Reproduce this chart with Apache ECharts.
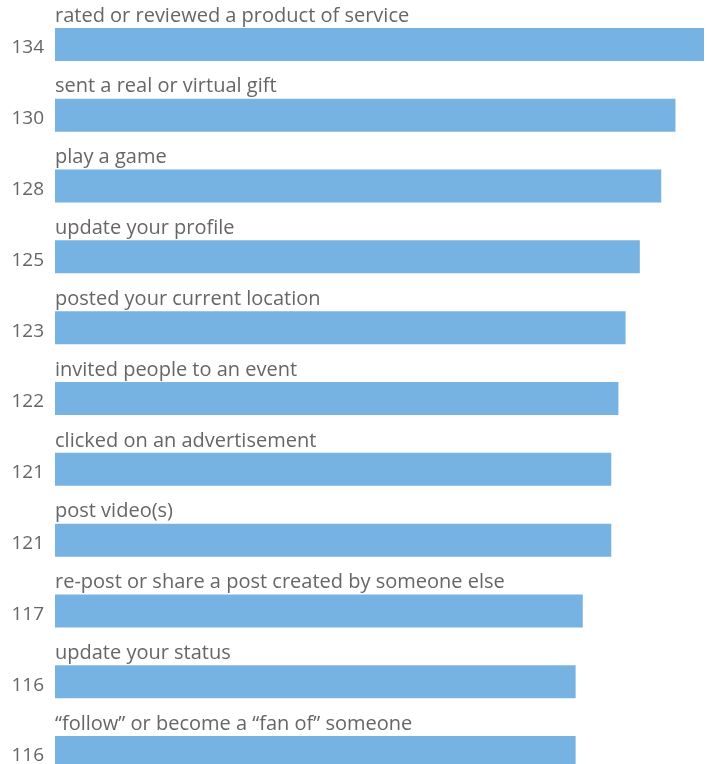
<!DOCTYPE html>
<html>
<head>
<meta charset="utf-8">
<style>
  html, body { margin: 0; padding: 0; background: #fff; }
  #chart { width: 707px; height: 764px; }
</style>
<script src="https://cdn.jsdelivr.net/npm/echarts@6/dist/echarts.min.js"></script>
</head>
<body>
<div id="chart"></div>
<script>
// Activities, top to bottom
const activities = [
  "rated or reviewed a product of service",
  "sent a real or virtual gift",
  "play a game",
  "update your profile",
  "posted your current location",
  "invited people to an event",
  "clicked on an advertisement",
  "post video(s)",
  "re-post or share a post created by someone else",
  "update your status",
  "\u201cfollow\u201d or become a \u201cfan of\u201d someone"
];
const scores = [134, 130, 128, 125, 123, 122, 121, 121, 117, 116, 116];

const TEXT = "#666666";
const BAR = "#76b3e3";
const FONT = "'Open Sans', sans-serif";

const chart = echarts.init(document.getElementById("chart"), null, { renderer: "canvas" });
chart.setOption({
  backgroundColor: "#ffffff",
  animation: false,
  grid: { left: 55, right: 3, top: 9, height: 779, containLabel: false, outerBoundsMode: "none" },
  xAxis: {
    type: "value",
    min: 43,
    max: 134,
    show: false
  },
  yAxis: {
    type: "category",
    inverse: true,
    data: activities,
    axisLine: { show: false },
    axisTick: { show: false },
    splitLine: { show: false },
    axisLabel: {
      margin: 11,
      formatter: (name, idx) => "{v|" + scores[idx] + "}",
      rich: {
        v: {
          color: TEXT,
          fontFamily: FONT,
          fontSize: 19,
          lineHeight: 20,
          padding: [7, 0, 0, 0]
        }
      }
    }
  },
  series: [{
    type: "bar",
    data: scores,
    barWidth: 33,
    itemStyle: { color: BAR },
    label: {
      show: true,
      position: [0, -1],
      align: "left",
      verticalAlign: "bottom",
      color: TEXT,
      fontFamily: FONT,
      fontSize: 20,
      lineHeight: 22,
      formatter: p => activities[p.dataIndex]
    }
  }]
});
</script>
</body>
</html>
